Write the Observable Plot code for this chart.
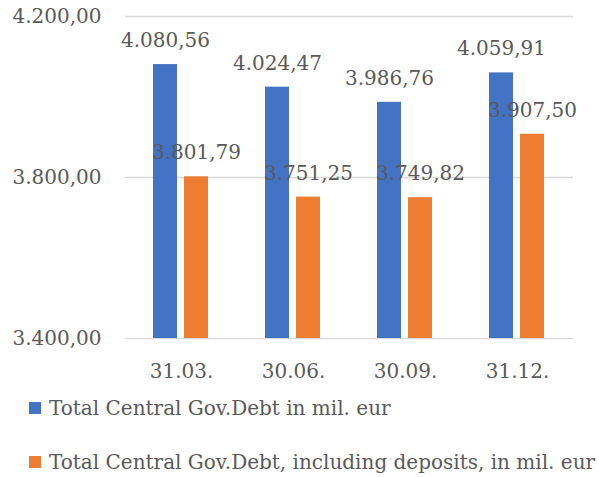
<!DOCTYPE html>
<html>
<head>
<meta charset="utf-8">
<script src="https://cdn.jsdelivr.net/npm/d3@7"></script>
<script src="https://cdn.jsdelivr.net/npm/@observablehq/plot@0.6"></script>
<style>
  html, body { margin: 0; padding: 0; background: #fff; }
  #wrap { position: relative; width: 599px; height: 477px; font-family: "DejaVu Serif", serif; color: #595959; }
  .sw { position: absolute; width: 12px; height: 12px; }
  .lt { position: absolute; font-size: 20px; line-height: 20px; white-space: nowrap; }
</style>
</head>
<body>
<div id="wrap"></div>
<script>
const dates = ["31.03.", "30.06.", "30.09.", "31.12."];
const debt = [4080.56, 4024.47, 3986.76, 4059.91];
const debtDeposits = [3801.79, 3751.25, 3749.82, 3907.50];
const seriesNames = ["Total Central Gov.Debt in mil. eur", "Total Central Gov.Debt, including deposits, in mil. eur"];
const colors = ["#4472C4", "#ED7D31"];
const yTicks = [3400, 3800, 4200];

const locale = d3.formatLocale({decimal: ",", thousands: ".", grouping: [3], currency: ["", ""]});
const fmt = locale.format(",.2f");

const data = dates.flatMap((d, i) => [
  {date: d, series: seriesNames[0], value: debt[i]},
  {date: d, series: seriesNames[1], value: debtDeposits[i]}
]);

const chart = Plot.plot({
  width: 599,
  height: 390,
  marginTop: 16,
  marginBottom: 52,
  marginLeft: 124,
  marginRight: 25,
  style: {fontFamily: "DejaVu Serif", fontSize: "20px", color: "#595959", background: "transparent"},
  fx: {domain: dates, padding: 0, tickSize: 0, tickPadding: 25, label: null},
  x: {domain: seriesNames, paddingInner: 0.22, paddingOuter: 0.9, axis: null},
  y: {domain: [3400, 4200], ticks: yTicks, tickFormat: fmt, tickSize: 0, tickPadding: 24, label: null},
  color: {domain: seriesNames, range: colors},
  marks: [
    Plot.ruleY(yTicks, {stroke: "#d9d9d9", strokeWidth: 1.3}),
    Plot.barY(data, {fx: "date", x: "series", y1: 3400, y2: "value", fill: "series"}),
    Plot.text(data, {fx: "date", x: "series", y: "value", text: d => fmt(d.value), lineAnchor: "bottom", dy: -17.5, fill: "#595959", fontSize: 20})
  ]
});

const wrap = document.getElementById("wrap");
wrap.appendChild(chart);

const legendTops = [398, 452];
seriesNames.forEach((name, i) => {
  const sw = document.createElement("div");
  sw.className = "sw";
  sw.style.left = "29px";
  sw.style.top = (legendTops[i] + 4) + "px";
  sw.style.background = colors[i];
  wrap.appendChild(sw);
  const t = document.createElement("div");
  t.className = "lt";
  t.style.left = "49px";
  t.style.top = legendTops[i] + "px";
  t.textContent = name;
  wrap.appendChild(t);
});
</script>
</body>
</html>
